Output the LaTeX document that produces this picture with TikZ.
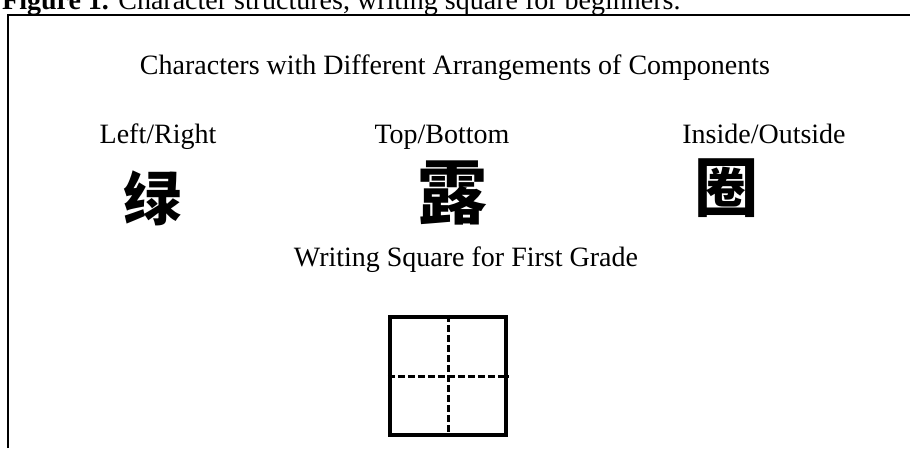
\documentclass[tikz,border=0pt]{standalone}
\usepackage{fontspec}
\setmainfont{Liberation Serif}
\newfontfamily\cjkfont{Noto Sans CJK SC}
\usetikzlibrary{positioning}

\begin{document}
\begin{tikzpicture}[
    x=1pt, y=-1pt,
    every node/.style={font=\fontsize{28}{32}\selectfont, inner sep=0pt},
    caption/.style={anchor=base},
    hanzi/.style={font=\cjkfont\bfseries\fontsize{64}{64}\selectfont},
    gridbox/.style={draw, line width=4.5pt},
    guide/.style={line width=3pt, dash pattern=on 7pt off 3pt}
]
\useasboundingbox (0,0) rectangle (910,448);

% Figure title (cut at the top)
\node[anchor=base west] (figtitle) at (2,9)
    {\textbf{Figure 1.} Character structures, writing square for beginners.};

% Frame
\draw[line width=2pt] (8,448) -- (8,15) -- (910,15);

% Heading
\node[caption] (head) at (455,74) {Characters with Different Arrangements of Components};

% Three arrangements with their characters
\node[caption] (lr) at (158,143) {Left/Right};
\node[caption] (tb) at (442,143) {Top/Bottom};
\node[caption] (io) at (764,143) {Inside/Outside};

\node[hanzi, font=\cjkfont\bfseries\fontsize{58}{58}\selectfont] (lv) at (152,198) {绿};
\node[hanzi, font=\cjkfont\bfseries\fontsize{70}{70}\selectfont] (lu) at (452,193) {露};
\node[hanzi] (quan) at (726,188) {圈};

% Writing square
\node[caption] (square) at (466,266) {Writing Square for First Grade};
\node[gridbox, minimum width=116pt, minimum height=118pt] (grid) at (448,376) {};
\draw[guide] (grid.north) -- (grid.south);
\draw[guide] (grid.west) -- (grid.east);

\end{tikzpicture}
\end{document}
